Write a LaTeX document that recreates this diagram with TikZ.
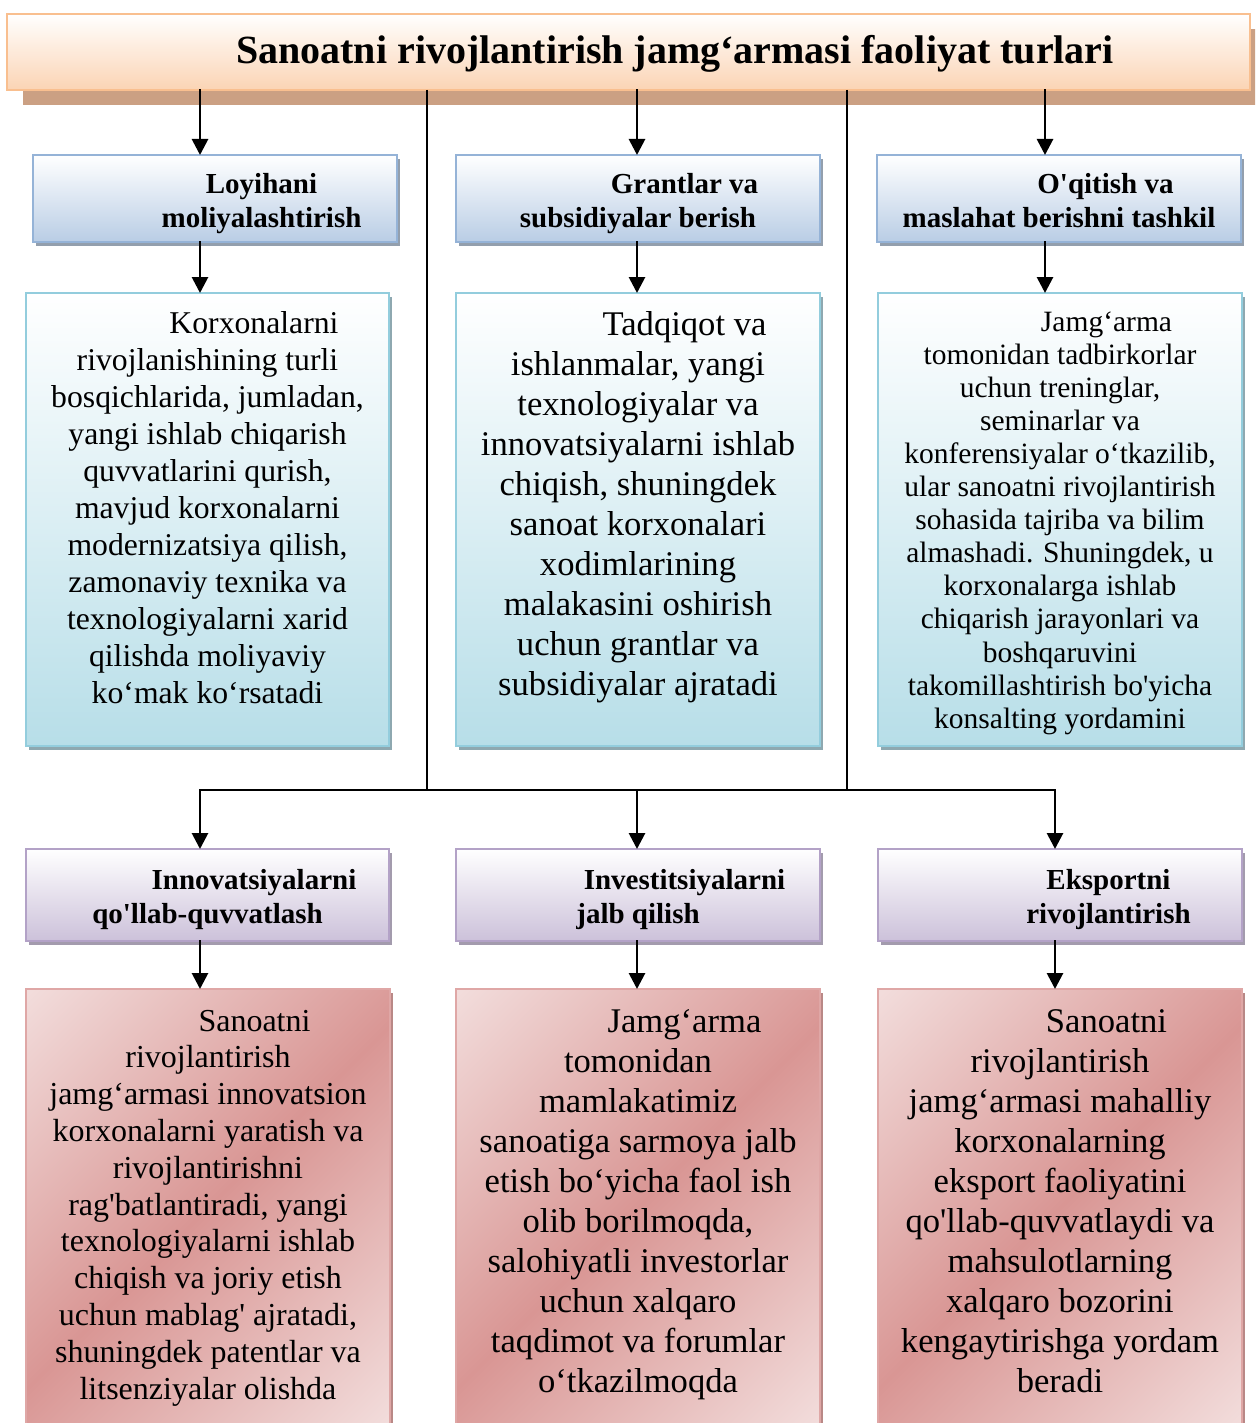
\documentclass[tikz,border=0pt]{standalone}
\usepackage{fontspec}
\setmainfont{Liberation Serif}
\usetikzlibrary{arrows.meta,shadows}

% palette
\definecolor{titleF}{HTML}{FBD4B4}
\definecolor{titleB}{HTML}{F9BF8F}
\definecolor{titleS}{HTML}{CBA083}
\definecolor{blueF}{HTML}{B9CDE5}
\definecolor{blueB}{HTML}{95B3D7}
\definecolor{blueS}{HTML}{939FAD}
\definecolor{cyanF}{HTML}{B7DEE8}
\definecolor{cyanB}{HTML}{93CDDD}
\definecolor{cyanS}{HTML}{8EA8B0}
\definecolor{purpF}{HTML}{CCC1DA}
\definecolor{purpB}{HTML}{B3A2C7}
\definecolor{purpS}{HTML}{A39BAD}
\definecolor{redL}{HTML}{F2DCDB}
\definecolor{redD}{HTML}{D99694}
\definecolor{redB}{HTML}{DFA7A6}
\definecolor{redS}{HTML}{B98886}

% diagonal band: light corners, darker across the middle
\pgfdeclareverticalshading{redband}{100bp}{color(0bp)=(redL); color(15bp)=(redL); color(50bp)=(redD); color(85bp)=(redL); color(100bp)=(redL)}

\newcommand\sapo{\textquotesingle}
\newcommand\lns[1]{\begin{tabular}[t]{@{}c@{}}#1\end{tabular}}

\tikzset{
  box/.style={rectangle, inner sep=0pt, outer sep=0pt, anchor=north west, line width=2pt},
  titlebox/.style={box, draw=titleB, line width=2.5pt, top color=white, bottom color=titleF,
    drop shadow={shadow xshift=16pt, shadow yshift=-15pt, fill=titleS, opacity=1}},
  hdrbox/.style={box, draw=blueB, top color=white, bottom color=blueF,
    drop shadow={shadow xshift=3pt, shadow yshift=-4pt, fill=blueS, opacity=1}},
  bodybox/.style={box, draw=cyanB, top color=white, bottom color=cyanF,
    drop shadow={shadow xshift=3pt, shadow yshift=-4pt, fill=cyanS, opacity=1}},
  purpbox/.style={box, draw=purpB, top color=white, bottom color=purpF,
    drop shadow={shadow xshift=3pt, shadow yshift=-4pt, fill=purpS, opacity=1}},
  redbox/.style={box, draw=redB, shade, shading=redband, shading angle=45,
    drop shadow={shadow xshift=3pt, shadow yshift=-4pt, fill=redS, opacity=1}},
  txt/.style={anchor=base, inner sep=0pt, outer sep=0pt},
  titletxt/.style={txt, font=\bfseries\fontsize{40}{48}\selectfont},
  hdrtxt/.style={txt, font=\bfseries\fontsize{29}{34}\selectfont},
  bodyA/.style={txt, font=\fontsize{31.7}{37}\selectfont},
  bodyB/.style={txt, font=\fontsize{34.6}{40}\selectfont},
  bodyC/.style={txt, font=\fontsize{29.5}{33.1}\selectfont},
  redA/.style={txt, font=\fontsize{32}{36.8}\selectfont},
  arr/.style={line width=2.8pt, line cap=rect, -{Triangle[width=16pt,length=16pt]}},
  link/.style={line width=2pt},
  hlink/.style={line width=2.8pt, line cap=rect}
}

\begin{document}
\begin{tikzpicture}[x=1pt,y=-1pt]
\useasboundingbox (0,0) rectangle (1255,1423);
\clip (0,0) rectangle (1255,1423);

% ---- title ----
\node[titlebox, minimum width=1243pt, minimum height=76pt] (title) at (7,14) {};
\node[titletxt] (titlet) at (628.5,64) {\hspace*{93pt}Sanoatni rivojlantirish jamg‘armasi faoliyat turlari};

% ---- upper row: headers ----
\node[hdrbox, minimum width=364pt, minimum height=87pt] (h1) at (33,155) {};
\node[hdrbox, minimum width=364pt, minimum height=87pt] (h2) at (456,155) {};
\node[hdrbox, minimum width=364pt, minimum height=87pt] (h3) at (877,155) {};
\node[hdrtxt] (h1t) at (215,194) {\lns{\hspace*{93pt}Loyihani\\\hspace*{93pt}moliyalashtirish}};
\node[hdrtxt] (h2t) at (638,194) {\lns{\hspace*{93pt}Grantlar va\\subsidiyalar berish}};
\node[hdrtxt] (h3t) at (1059,194) {\lns{\hspace*{93pt}O\sapo{}qitish va\\maslahat berishni tashkil}};

% ---- upper row: descriptions ----
\node[bodybox, minimum width=363pt, minimum height=453pt] (b1) at (26,293) {};
\node[bodybox, minimum width=364pt, minimum height=453pt] (b2) at (456,293) {};
\node[bodybox, minimum width=364pt, minimum height=453pt] (b3) at (878,293) {};
\node[bodyA] (b1t) at (207.5,333) {\lns{\hspace*{93pt}Korxonalarni\\
rivojlanishining turli\\
bosqichlarida, jumladan,\\
yangi ishlab chiqarish\\
quvvatlarini qurish,\\
mavjud korxonalarni\\
modernizatsiya qilish,\\
zamonaviy texnika va\\
texnologiyalarni xarid\\
qilishda moliyaviy\\
ko‘mak ko‘rsatadi}};
\node[bodyB] (b2t) at (638,335) {\lns{\hspace*{93pt}Tadqiqot va\\
ishlanmalar, yangi\\
texnologiyalar va\\
innovatsiyalarni ishlab\\
chiqish, shuningdek\\
sanoat korxonalari\\
xodimlarining\\
malakasini oshirish\\
uchun grantlar va\\
subsidiyalar ajratadi}};
\node[bodyC] (b3t) at (1060,331) {\lns{\hspace*{93pt}Jamg‘arma\\
tomonidan tadbirkorlar\\
uchun treninglar,\\
seminarlar va\\
konferensiyalar o‘tkazilib,\\
ular sanoatni rivojlantirish\\
sohasida tajriba va bilim\\
almashadi. Shuningdek, u\\
korxonalarga ishlab\\
chiqarish jarayonlari va\\
boshqaruvini\\
takomillashtirish bo\sapo{}yicha\\
konsalting yordamini}};

% ---- lower row: headers ----
\node[purpbox, minimum width=363pt, minimum height=92pt] (p1) at (26,849) {};
\node[purpbox, minimum width=364pt, minimum height=92pt] (p2) at (456,849) {};
\node[purpbox, minimum width=364pt, minimum height=92pt] (p3) at (878,849) {};
\node[hdrtxt] (p1t) at (207.5,889) {\lns{\hspace*{93pt}Innovatsiyalarni\\qo\sapo{}llab-quvvatlash}};
\node[hdrtxt] (p2t) at (638,889) {\lns{\hspace*{93pt}Investitsiyalarni\\jalb qilish}};
\node[hdrtxt] (p3t) at (1062,889) {\lns{\hspace*{93pt}Eksportni\\\hspace*{93pt}rivojlantirish}};

% ---- lower row: descriptions ----
\node[redbox, minimum width=364pt, minimum height=437pt] (r1) at (26,989) {};
\node[redbox, minimum width=364pt, minimum height=437pt] (r2) at (456,989) {};
\node[redbox, minimum width=364pt, minimum height=437pt] (r3) at (878,989) {};
\node[redA] (r1t) at (208,1031) {\lns{\hspace*{93pt}Sanoatni\\
rivojlantirish\\
jamg‘armasi innovatsion\\
korxonalarni yaratish va\\
rivojlantirishni\\
rag\sapo{}batlantiradi, yangi\\
texnologiyalarni ishlab\\
chiqish va joriy etish\\
uchun mablag\sapo{} ajratadi,\\
shuningdek patentlar va\\
litsenziyalar olishda}};
\node[bodyB] (r2t) at (638,1032.5) {\lns{\hspace*{93pt}Jamg‘arma\\
tomonidan\\
mamlakatimiz\\
sanoatiga sarmoya jalb\\
etish bo‘yicha faol ish\\
olib borilmoqda,\\
salohiyatli investorlar\\
uchun xalqaro\\
taqdimot va forumlar\\
o‘tkazilmoqda}};
\node[bodyB] (r3t) at (1060,1032) {\lns{\hspace*{93pt}Sanoatni\\
rivojlantirish\\
jamg‘armasi mahalliy\\
korxonalarning\\
eksport faoliyatini\\
qo\sapo{}llab-quvvatlaydi va\\
mahsulotlarning\\
xalqaro bozorini\\
kengaytirishga yordam\\
beradi}};

% ---- connectors ----
\coordinate (a1) at (200,0);
\coordinate (a2) at (637,0);
\coordinate (a3) at (1045,0);
\draw[arr] (title.south -| a1) -- (h1.north -| a1);
\draw[arr] (title.south -| a2) -- (h2.north -| a2);
\draw[arr] (title.south -| a3) -- (h3.north -| a3);
\draw[arr] (h1.south -| a1) -- (b1.north -| a1);
\draw[arr] (h2.south -| a2) -- (b2.north -| a2);
\draw[arr] (h3.south -| a3) -- (b3.north -| a3);

\coordinate (jl) at (427,790);
\coordinate (jr) at (847,790);
\coordinate (bl) at (200,790);
\coordinate (bm) at (637,790);
\coordinate (br) at (1055,790);
\draw[link] (title.south -| jl) -- (jl);
\draw[link] (title.south -| jr) -- (jr);
\draw[hlink] (bl) -- (br);
\draw[arr] (bl) -- (bl |- p1.north);
\draw[arr] (bm) -- (bm |- p2.north);
\draw[arr] (br) -- (br |- p3.north);
\draw[arr] (p1.south -| bl) -- (r1.north -| bl);
\draw[arr] (p2.south -| bm) -- (r2.north -| bm);
\draw[arr] (p3.south -| br) -- (r3.north -| br);
\end{tikzpicture}
\end{document}
